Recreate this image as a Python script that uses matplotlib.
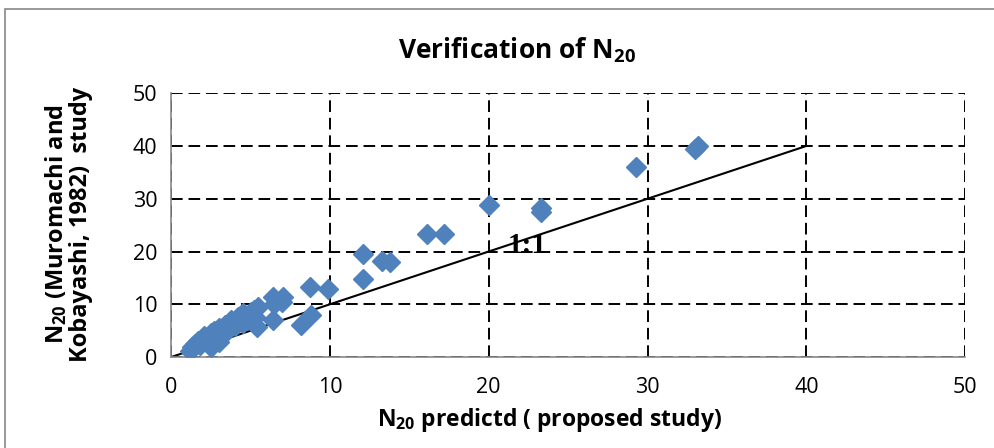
import matplotlib
matplotlib.use('Agg')
import matplotlib.pyplot as plt
import numpy as np
from matplotlib.patches import Rectangle

plt.rcParams['font.family'] = ['Open Sans', 'DejaVu Sans']
plt.rcParams['mathtext.fontset'] = 'custom'
plt.rcParams['mathtext.rm'] = 'Open Sans:bold'
plt.rcParams['mathtext.default'] = 'rm'

# N20 predicted (proposed study) vs N20 (Muromachi and Kobayashi, 1982)
n20_pred = [1.2, 1.3, 1.5, 1.7, 1.8, 2.0, 2.1, 2.3, 2.5, 2.5, 2.7, 2.8, 3.0, 3.0,
            3.2, 3.4, 3.5, 3.7, 3.8, 4.0, 4.2, 4.5, 4.5, 4.8, 5.0, 5.2, 5.4, 5.5,
            5.3, 6.4, 6.5, 6.4, 7.05, 7.0, 8.2, 8.8, 8.75, 9.9, 12.1, 12.1, 13.3,
            13.8, 16.1, 17.2, 20.0, 23.3, 23.3, 29.3, 33.0, 33.2]
n20_muro = [1.2, 2.0, 2.5, 3.0, 2.2, 3.5, 4.0, 3.2, 4.5, 2.0, 5.0, 3.8, 5.5, 2.8,
            4.2, 6.0, 5.0, 6.5, 7.0, 5.8, 7.5, 8.3, 6.5, 7.0, 8.5, 8.9, 5.7, 9.5,
            7.5, 11.4, 10.0, 7.0, 11.3, 10.5, 6.0, 8.0, 13.3, 12.9, 19.5, 14.7, 18.2,
            18.0, 23.3, 23.4, 28.8, 28.2, 27.5, 36.0, 39.5, 39.9]
line_x = [0, 40]
line_y = [0, 40]
ticks = [0, 10, 20, 30, 40, 50]

fig = plt.figure(figsize=(9.95, 4.48), dpi=100)
fig.patches.append(Rectangle((0.005, -0.01), 1.2, 0.99, transform=fig.transFigure,
                             fill=False, edgecolor='#888888', linewidth=1.2))
ax = fig.add_axes([0.172, 0.203, 0.798, 0.589])

ax.plot(line_x, line_y, color='black', linewidth=1.5, zorder=2)
ax.plot(n20_pred, n20_muro, linestyle='none', marker='D', markersize=10,
        color='#4F81BD', markeredgecolor='#4F81BD', zorder=3)
ax.text(21.2, 19.8, '1:1', fontsize=21, fontweight='bold',
        family=['Liberation Serif'], color='black', zorder=4)

ax.set_xlim(0, 50)
ax.set_ylim(0, 50)
ax.set_xticks(ticks)
ax.set_yticks(ticks)
ax.grid(True, color='black', linestyle=(0, (6, 3)), linewidth=1.4)
ax.set_axisbelow(True)
for s in ['top', 'right']:
    ax.spines[s].set_visible(False)
for s in ['left', 'bottom']:
    ax.spines[s].set_color('#888888')
    ax.spines[s].set_linewidth(1.2)
ax.tick_params(length=0, labelsize=15.5, pad=10)
ax.tick_params(axis='x', pad=14)

fig.text(0.52, 0.888, 'Verification of N$_{20}$', ha='center', va='center',
         fontsize=19, fontweight='bold')
fig.text(0.552, 0.062, 'N$_{20}$ predictd ( proposed study)', ha='center', va='center',
         fontsize=16.5, fontweight='bold')
fig.text(0.068, 0.5, 'N$_{20}$ (Muromachi and\nKobayashi, 1982)  study', ha='center',
         va='center', rotation=90, multialignment='center', fontsize=17,
         fontweight='bold', linespacing=1.0)

fig.savefig('out.png', dpi=100)
